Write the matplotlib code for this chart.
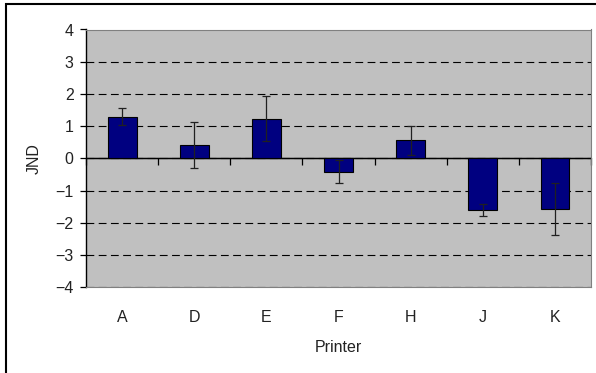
import matplotlib.pyplot as plt
from matplotlib.patches import Rectangle

printers = ['A', 'D', 'E', 'F', 'H', 'J', 'K']
jnd = [1.3, 0.41, 1.23, -0.41, 0.56, -1.61, -1.56]
err = [0.25, 0.71, 0.70, 0.36, 0.45, 0.19, 0.81]

plt.rcParams['font.family'] = ['Liberation Sans', 'DejaVu Sans']
fs = 11.5

fig = plt.figure(figsize=(5.96, 3.73), dpi=100)
ax = fig.add_axes([86 / 596, 1 - 287.3 / 373, 505 / 596, 257.8 / 373])
ax.set_facecolor('#c0c0c0')

x_range = range(len(printers))
ax.bar(x_range, jnd, width=0.4, color='#000080', edgecolor='black', linewidth=0.8, zorder=3)
ax.errorbar(x_range, jnd, yerr=err, fmt='none', ecolor='#202020', elinewidth=0.9,
            capsize=3, capthick=0.9, zorder=4)

ax.set_xlim(-0.5, len(printers) - 0.5)
ax.set_ylim(-4, 4)
ax.set_yticks(range(-4, 5))
ax.set_yticklabels([str(v).replace('-', '\u2212') for v in range(-4, 5)], fontsize=fs)
ax.tick_params(axis='y', length=4, width=0.9, pad=5, labelcolor='#222222')

ax.set_xticks(list(x_range))
ax.set_xticklabels(printers, fontsize=fs)
ax.tick_params(axis='x', length=0, pad=16, labelcolor='#222222')

ax.grid(axis='y', color='black', linewidth=0.8, linestyle=(0, (7, 4)), zorder=1)
ax.axhline(0, color='black', linewidth=1.0, zorder=2)

for side in ['top', 'right', 'bottom']:
    ax.spines[side].set_color('#808080')
ax.spines['left'].set_color('black')
ax.spines['left'].set_linewidth(1.0)

# category separators on the zero line
sec = ax.secondary_xaxis(0.5)
sec.set_xticks([i - 0.5 for i in range(len(printers) + 1)])
sec.tick_params(axis='x', direction='in', length=5, width=0.9, labelbottom=False)
sec.set_xticklabels([])
sec.spines['bottom'].set_visible(False)

ax.set_xlabel('Printer', fontsize=fs, labelpad=11, color='#222222')
ax.set_ylabel('JND', fontsize=fs, labelpad=10, color='#222222')

fig.add_artist(Rectangle((6 / 596, -0.1), 1.2, 1.1 - 4 / 373, transform=fig.transFigure,
                         fill=False, edgecolor='black', linewidth=1.5))

fig.savefig('out.png', dpi=100)
